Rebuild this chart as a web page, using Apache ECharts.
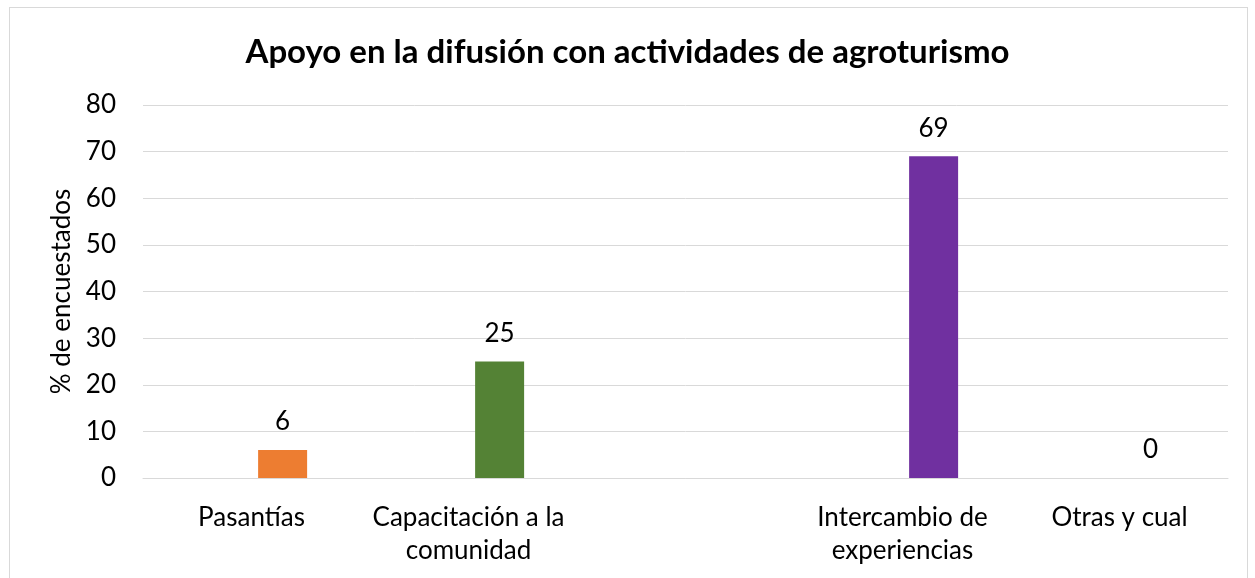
<!DOCTYPE html>
<html>
<head>
<meta charset="utf-8">
<script src="https://cdn.jsdelivr.net/npm/echarts@6/dist/echarts.min.js"></script>
<style>
  html, body { margin: 0; padding: 0; background: #fff; }
  #chart { width: 1255px; height: 578px; }
  #frame {
    position: absolute; left: 9px; top: 7px; width: 1237px; height: 600px;
    border: 1px solid #d9d9d9; pointer-events: none;
  }
</style>
</head>
<body>
<div id="chart"></div>
<div id="frame"></div>
<script>
// categorias (la tercera va vacia, como en el original)
var categories = ["Pasantías", "Capacitación a la\ncomunidad", "", "Intercambio de\nexperiencias", "Otras y cual"];
// % de encuestados
var values = [6, 25, null, 69, 0];
var emptySerie = [null, null, null, null, null];
var barColors = ["#ED7D31", "#548235", "#A5A5A5", "#7030A0", "#4472C4"];

var yMin = 0;
var yMax = 80;
var yStep = 10;

var FONT = "Lato";

var myChart = echarts.init(document.getElementById("chart"));
myChart.setOption({
  animation: false,
  textStyle: { fontFamily: FONT },
  title: {
    text: "Apoyo en la difusión con actividades de agroturismo",
    left: "center",
    top: 31,
    textStyle: { fontFamily: FONT, fontSize: 33, fontWeight: "bold", color: "#000" },
  },
  grid: {
    left: 143,
    right: 27,
    top: 105,
    bottom: 100,
  },
  xAxis: {
    type: "category",
    data: categories,
    axisLine: { lineStyle: { color: "#D9D9D9", width: 1 } },
    axisTick: { show: false },
    axisLabel: {
      color: "#000",
      fontSize: 26,
      lineHeight: 33,
      margin: 23,
      interval: 0,
      fontFamily: FONT,
    },
  },
  yAxis: {
    type: "value",
    min: yMin,
    max: yMax,
    interval: yStep,
    name: "% de encuestados",
    nameLocation: "middle",
    nameGap: 68,
    nameTextStyle: { color: "#000", fontSize: 26, fontFamily: FONT },
    axisLabel: { color: "#000", fontSize: 26, margin: 27, fontFamily: FONT },
    axisLine: { show: false },
    axisTick: { show: false },
    splitLine: { lineStyle: { color: "#D9D9D9", width: 1 } },
  },
  series: [
    {
      type: "bar",
      data: emptySerie,
      barWidth: 49,
      barGap: "27%",
    },
    {
      type: "bar",
      barWidth: 49,
      barGap: "27%",
      data: values.map(function (v, i) {
        return { value: v, itemStyle: { color: barColors[i] } };
      }),
      label: {
        show: true,
        position: "top",
        distance: 15,
        color: "#000",
        fontSize: 26,
        fontFamily: FONT,
      },
    },
  ],
});
</script>
</body>
</html>
